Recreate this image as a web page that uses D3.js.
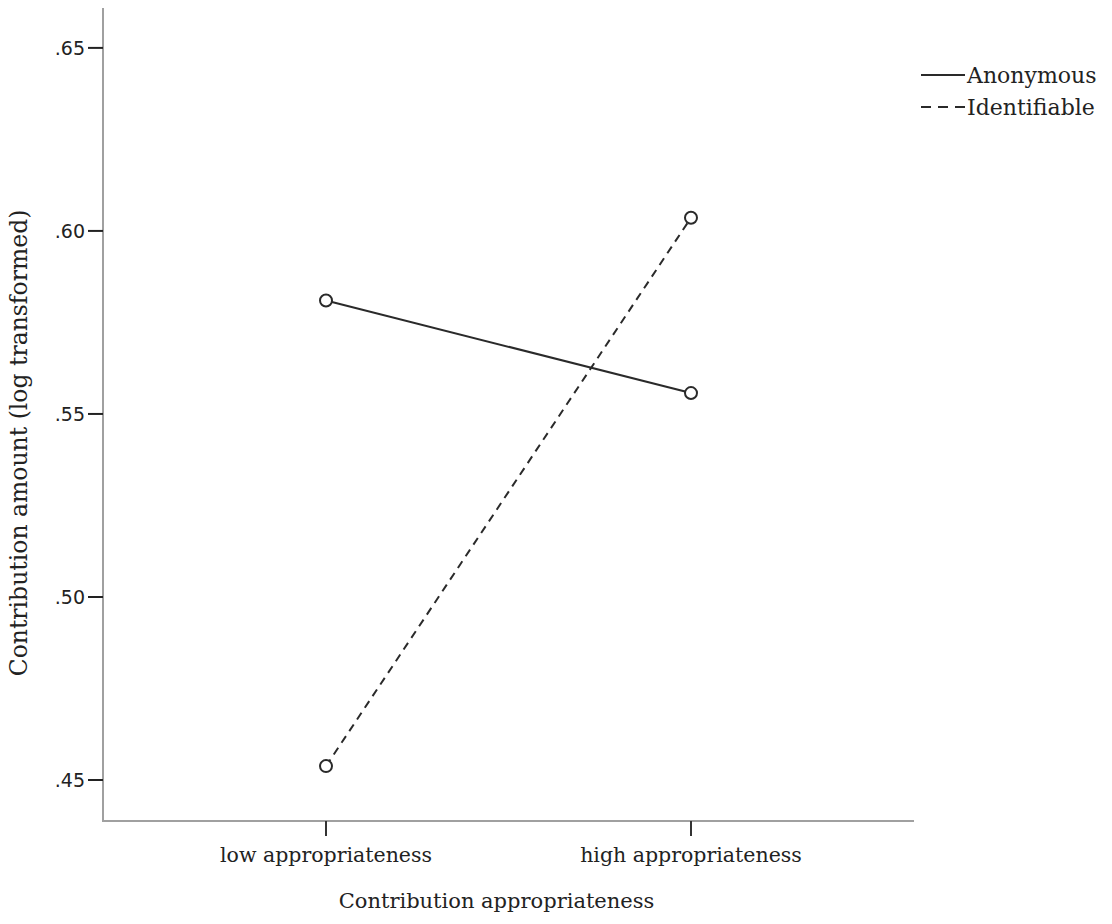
<!DOCTYPE html>
<html>
<head>
<meta charset="utf-8">
<script src="https://cdn.jsdelivr.net/npm/d3@7"></script>
<style>
  body { margin: 0; background: #fff; }
  text { fill: #222; }
</style>
</head>
<body>
<div id="chart"></div>
<script>
// data
var categories = ["low appropriateness", "high appropriateness"];
var seriesNames = ["Anonymous", "Identifiable"];
var anonymousValues = [0.581, 0.5557];
var identifiableValues = [0.4538, 0.6036];
var yTicks = [0.45, 0.50, 0.55, 0.60, 0.65];

var width = 1112, height = 924;
var plot = { left: 103, right: 914, top: 8, bottom: 821 };

var svg = d3.select("#chart").append("svg")
  .attr("width", width)
  .attr("height", height);

var x = d3.scalePoint()
  .domain(categories)
  .range([plot.left, plot.right])
  .padding(0.611);

var y = d3.scaleLinear()
  .domain([0.4388, 0.6609])
  .range([plot.bottom, plot.top]);

// axes lines (grey)
svg.append("line")
  .attr("x1", plot.left).attr("x2", plot.left)
  .attr("y1", plot.top).attr("y2", plot.bottom + 1)
  .style("stroke", "#a0a0a0").style("stroke-width", 2);
svg.append("line")
  .attr("x1", plot.left - 1).attr("x2", plot.right)
  .attr("y1", plot.bottom).attr("y2", plot.bottom)
  .style("stroke", "#a0a0a0").style("stroke-width", 2);

// y ticks
var yt = svg.selectAll(".ytick").data(yTicks).enter().append("g").attr("class", "ytick");
yt.append("line")
  .attr("x1", plot.left - 15).attr("x2", plot.left)
  .attr("y1", function(d) { return y(d); })
  .attr("y2", function(d) { return y(d); })
  .style("stroke", "#222").style("stroke-width", 2);
yt.append("text")
  .attr("x", plot.left - 18)
  .attr("y", function(d) { return y(d); })
  .attr("dy", "0.36em")
  .attr("text-anchor", "end")
  .style("font-family", "DejaVu Sans")
  .style("font-size", "19px")
  .text(function(d) { return d3.format(".2f")(d).replace(/^0/, ""); });

// x ticks
var xt = svg.selectAll(".xtick").data(categories).enter().append("g").attr("class", "xtick");
xt.append("line")
  .attr("x1", function(d) { return x(d); })
  .attr("x2", function(d) { return x(d); })
  .attr("y1", plot.bottom).attr("y2", plot.bottom + 15)
  .style("stroke", "#333").style("stroke-width", 2);
xt.append("text")
  .attr("x", function(d) { return x(d); })
  .attr("y", plot.bottom + 41)
  .attr("text-anchor", "middle")
  .style("font-family", "DejaVu Serif")
  .style("font-size", "20.5px")
  .text(function(d) { return d; });

// axis titles
svg.append("text")
  .attr("x", (plot.left + plot.right) / 2 - 12)
  .attr("y", 908)
  .attr("text-anchor", "middle")
  .style("font-family", "DejaVu Serif")
  .style("font-size", "21px")
  .text("Contribution appropriateness");

svg.append("text")
  .attr("transform", "translate(27," + 443 + ") rotate(-90)")
  .attr("text-anchor", "middle")
  .style("font-family", "DejaVu Serif")
  .style("font-size", "23.5px")
  .text("Contribution amount (log transformed)");

// series
var series = [
  { name: seriesNames[0], values: anonymousValues, dash: null },
  { name: seriesNames[1], values: identifiableValues, dash: "8,6" }
];

var line = d3.line()
  .x(function(d, i) { return x(categories[i]); })
  .y(function(d) { return y(d); });

series.forEach(function(s) {
  svg.append("path")
    .attr("d", line(s.values))
    .style("fill", "none")
    .style("stroke", "#2a2a2a")
    .style("stroke-width", 2)
    .style("stroke-dasharray", s.dash);
  svg.selectAll(null).data(s.values).enter().append("circle")
    .attr("cx", function(d, i) { return x(categories[i]); })
    .attr("cy", function(d) { return y(d); })
    .attr("r", 6)
    .style("fill", "#fff")
    .style("stroke", "#2a2a2a")
    .style("stroke-width", 2);
});

// legend
var legend = svg.selectAll(".legend").data(series).enter().append("g")
  .attr("class", "legend")
  .attr("transform", function(d, i) { return "translate(921," + (75 + i * 32) + ")"; });
legend.append("line")
  .attr("x1", 0).attr("x2", 44)
  .style("stroke", "#2a2a2a").style("stroke-width", 2)
  .style("stroke-dasharray", function(d) { return d.dash ? "10,7" : null; });
legend.append("text")
  .attr("x", 46)
  .attr("dy", "0.35em")
  .style("font-family", "DejaVu Serif")
  .style("font-size", "22px")
  .text(function(d) { return d.name; });
</script>
</body>
</html>
